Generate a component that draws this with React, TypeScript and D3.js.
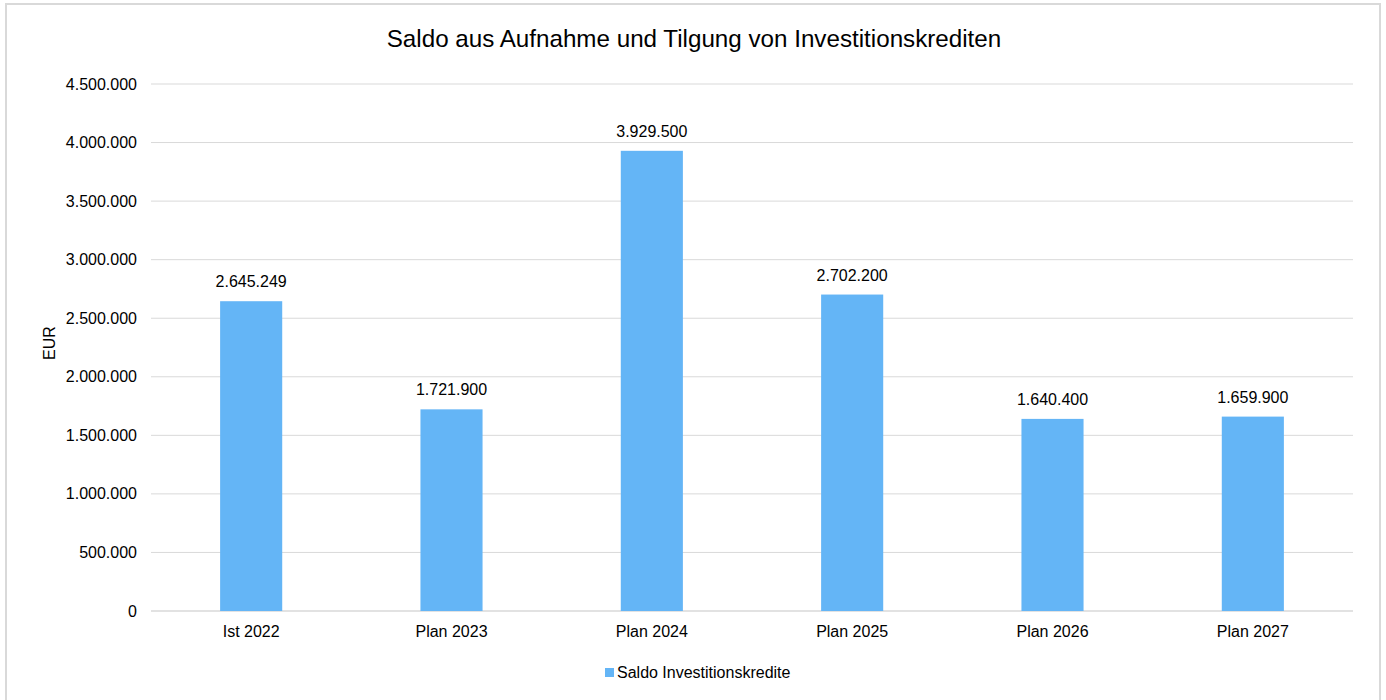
import React from "react";
import * as d3 from "d3";

const categories = ["Ist 2022", "Plan 2023", "Plan 2024", "Plan 2025", "Plan 2026", "Plan 2027"];
const values = [2645249, 1721900, 3929500, 2702200, 1640400, 1659900];
const yTicks = [0, 500000, 1000000, 1500000, 2000000, 2500000, 3000000, 3500000, 4000000, 4500000];
const title = "Saldo aus Aufnahme und Tilgung von Investitionskrediten";
const seriesName = "Saldo Investitionskredite";
const yAxisTitle = "EUR";

const W = 1386;
const H = 700;
const left = 151;
const right = 1353;
const top = 84;
const bottom = 611;
const barColor = "#64B5F6";
const font = "'Liberation Sans', Arial, sans-serif";

const fmt = (v: number) => {
  const s = Math.round(v).toString();
  return s.replace(/\B(?=(\d{3})+(?!\d))/g, ".");
};

export default function App() {
  const x = d3.scaleBand<string>().domain(categories).range([left, right]).paddingInner(0.69).paddingOuter(0.345);
  const y = d3.scaleLinear().domain([0, 4500000]).range([bottom, top]);
  return (
    <svg width={W} height={H} style={{ position: "absolute", left: 0, top: 0, background: "#fff" }} fontFamily={font}>
      <rect x={6} y={4} width={1374} height={H + 10} fill="#fff" stroke="#d9d9d9" strokeWidth={2} />
      <text x={694} y={47} textAnchor="middle" fontSize={24.2} fill="#000">{title}</text>
      {yTicks.map((t) => (
        <g key={t}>
          <line x1={left} x2={right} y1={y(t)} y2={y(t)} stroke="#d9d9d9" strokeWidth={t === 0 ? 1.5 : 1} />
          <text x={137} y={y(t)} dy="0.35em" textAnchor="end" fontSize={16} fill="#000">{fmt(t)}</text>
        </g>
      ))}
      <text transform={`translate(55,343) rotate(-90)`} textAnchor="middle" fontSize={16} fill="#000">{yAxisTitle}</text>
      {categories.map((c, i) => (
        <g key={c}>
          <rect x={x(c)} y={y(values[i])} width={x.bandwidth()} height={y(0) - y(values[i])} fill={barColor} />
          <text x={x(c)! + x.bandwidth() / 2} y={y(values[i]) - 14} textAnchor="middle" fontSize={16} fill="#000">{fmt(values[i])}</text>
          <text x={x(c)! + x.bandwidth() / 2} y={637} textAnchor="middle" fontSize={16} fill="#000">{c}</text>
        </g>
      ))}
      <rect x={605} y={668} width={9} height={9} fill={barColor} />
      <text x={617} y={678} fontSize={16} fill="#000">{seriesName}</text>
    </svg>
  );
}
